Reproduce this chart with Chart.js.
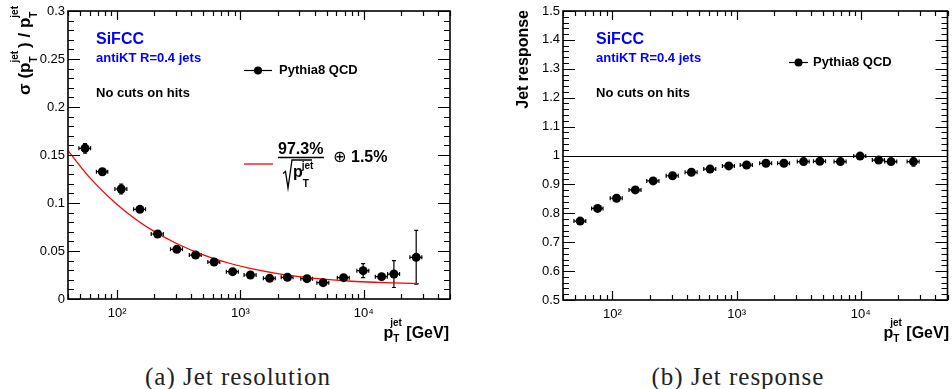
<!DOCTYPE html>
<html>
<head>
<meta charset="utf-8">
<script src="https://cdn.jsdelivr.net/npm/chart.js@4.4.0/dist/chart.umd.min.js"></script>
<style>
  body { margin: 0; background: #fff; }
  #wrap { position: relative; width: 952px; height: 389px; overflow: hidden; }
  .panel { position: absolute; top: 0; width: 476px; height: 350px; }
  .caption { position: absolute; top: 364px; font-family: "Liberation Serif", serif; font-size: 25px; letter-spacing: 1px; line-height: 25px; white-space: nowrap; transform: translateX(-50%); color: #222; }
</style>
</head>
<body>
<div id="wrap">
  <div class="panel" style="left:0"><canvas id="chartRes" width="476" height="350"></canvas></div>
  <div class="panel" style="left:476px"><canvas id="chartResp" width="476" height="350"></canvas></div>
  <div class="caption" style="left:238px">(a) Jet resolution</div>
  <div class="caption" style="left:738px">(b) Jet response</div>
</div>
<script>
// jet pT bins (GeV) and their half widths
const ptBins = [55, 76, 108, 153, 213, 305, 433, 612, 865, 1205, 1725, 2405, 3465, 4685, 6860, 9885, 13950, 17550, 26600];
const ptHalfWidth = [6, 8, 12, 17, 24, 34, 48, 68, 96, 135, 190, 265, 380, 520, 760, 1100, 1550, 1950, 2950];

// (a) resolution sigma(pT)/pT
const resolution = [0.157, 0.1326, 0.1146, 0.0934, 0.0677, 0.0517, 0.0458, 0.0385, 0.0285, 0.025, 0.0215, 0.0226, 0.0212, 0.017, 0.0222, 0.0295, 0.0233, 0.026, 0.0434];
const resolutionErr = [0.005, 0.003, 0.005, 0.003, 0.002, 0.002, 0.002, 0.002, 0.002, 0.002, 0.002, 0.002, 0.002, 0.002, 0.002, 0.0073, 0.002, 0.014, 0.028];

// fitted curve
const fitPt = [40, 60, 100, 150, 200, 300, 500, 800, 1200, 2000, 3000, 5000, 8000, 13000, 20000, 28000];
const fitSigma = [0.1546, 0.1265, 0.0985, 0.0808, 0.0704, 0.0581, 0.046, 0.0375, 0.0318, 0.0264, 0.0233, 0.0204, 0.0185, 0.0173, 0.0165, 0.0161];

// (b) response
const response = [0.773, 0.817, 0.852, 0.881, 0.912, 0.930, 0.942, 0.953, 0.964, 0.967, 0.973, 0.973, 0.979, 0.980, 0.979, 0.998, 0.984, 0.979, 0.979];
const responseErr = [0.004, 0.003, 0.003, 0.003, 0.003, 0.003, 0.003, 0.003, 0.003, 0.003, 0.003, 0.003, 0.003, 0.003, 0.003, 0.003, 0.003, 0.003, 0.016];

const xTickValues = [100, 1000, 10000];
const xTickLabels = ['10\u00B2', '10\u00B3', '10\u2074'];

const SANS = '"Liberation Sans", Arial, Helvetica, sans-serif';
const MAIN = 'bold 16px ' + SANS;
const SMALL = 'bold 10px ' + SANS;

function toPoints(ys, errs) {
    return ptBins.map((x, i) => ({ x: x, y: ys[i], xe: ptHalfWidth[i], ye: errs[i] }));
}

// text with stacked sub/superscripts
function stackWidth(ctx, p) {
    ctx.font = SMALL;
    return Math.max(ctx.measureText(p.sup).width + (p.supKern || 0), ctx.measureText(p.sub).width + (p.subKern || 0)) + (p.gap || 0);
}

function drawRich(ctx, parts, x, y, alignRight) {
    let total = 0;
    parts.forEach(p => {
        if (p.sup !== undefined) {
            total += stackWidth(ctx, p);
        } else {
            ctx.font = p.font || MAIN;
            total += ctx.measureText(p.t).width;
        }
    });
    let cx = alignRight ? x - total : x;
    ctx.textAlign = 'left';
    ctx.textBaseline = 'alphabetic';
    parts.forEach(p => {
        if (p.sup !== undefined) {
            ctx.font = SMALL;
            ctx.fillText(p.sup, cx + (p.supKern || 0), y + p.supDy);
            ctx.fillText(p.sub, cx + (p.subKern || 0), y + p.subDy);
            cx += stackWidth(ctx, p);
        } else {
            ctx.font = p.font || MAIN;
            ctx.fillText(p.t, cx, y);
            cx += ctx.measureText(p.t).width;
        }
    });
}

// ROOT like frame: error bars, box and inward ticks
const rootFrame = {
    id: 'rootFrame',
    beforeDatasetsDraw(chart) {
        const ctx = chart.ctx, xs = chart.scales.x, ys = chart.scales.y;
        const ds = chart.data.datasets[0];
        ctx.save();
        ctx.strokeStyle = '#000';
        ctx.lineWidth = 1.2;
        ds.data.forEach(p => {
            const px = xs.getPixelForValue(p.x), py = ys.getPixelForValue(p.y);
            const x0 = xs.getPixelForValue(p.x - p.xe), x1 = xs.getPixelForValue(p.x + p.xe);
            const y0 = ys.getPixelForValue(p.y - p.ye), y1 = ys.getPixelForValue(p.y + p.ye);
            ctx.beginPath();
            ctx.moveTo(x0, py); ctx.lineTo(x1, py);
            ctx.moveTo(x0, py - 2); ctx.lineTo(x0, py + 2);
            ctx.moveTo(x1, py - 2); ctx.lineTo(x1, py + 2);
            ctx.moveTo(px, y0); ctx.lineTo(px, y1);
            ctx.moveTo(px - 2, y0); ctx.lineTo(px + 2, y0);
            ctx.moveTo(px - 2, y1); ctx.lineTo(px + 2, y1);
            ctx.stroke();
        });
        ctx.restore();
    },
    afterDraw(chart, args, opts) {
        const ctx = chart.ctx, xs = chart.scales.x, ys = chart.scales.y;
        const a = chart.chartArea;
        ctx.save();
        ctx.strokeStyle = '#000';
        ctx.lineWidth = 1.2;
        ctx.beginPath();
        // log x ticks, top and bottom
        for (let d = 1; d <= 5; d++) {
            for (let m = 1; m <= 9; m++) {
                const v = m * Math.pow(10, d);
                if (v < xs.min || v > xs.max) continue;
                const px = Math.round(xs.getPixelForValue(v)) + 0.5;
                const len = m === 1 ? 9 : 5;
                ctx.moveTo(px, a.bottom); ctx.lineTo(px, a.bottom - len);
                ctx.moveTo(px, a.top); ctx.lineTo(px, a.top + len);
            }
        }
        // linear y ticks, left and right
        const n = Math.round((ys.max - ys.min) / opts.minor);
        const per = Math.round(opts.major / opts.minor);
        for (let i = 0; i <= n; i++) {
            const py = Math.round(ys.getPixelForValue(ys.min + i * opts.minor)) + 0.5;
            const len = i % per === 0 ? 12 : 6;
            ctx.moveTo(a.left, py); ctx.lineTo(a.left + len, py);
            ctx.moveTo(a.right, py); ctx.lineTo(a.right - len, py);
        }
        ctx.stroke();
        ctx.lineWidth = 1.6;
        ctx.strokeRect(a.left, a.top, a.right - a.left, a.bottom - a.top);
        ctx.restore();
    }
};

// common annotation: SiFCC labels, legend, x title
function drawHeader(ctx, x, legendX, legendY, markLen, textGap) {
    ctx.save();
    ctx.textAlign = 'left';
    ctx.textBaseline = 'middle';
    ctx.fillStyle = '#0000ff';
    ctx.font = 'bold 16px ' + SANS;
    ctx.fillText('SiFCC', x, 40);
    ctx.font = 'bold 13px ' + SANS;
    ctx.fillText('antiKT R=0.4 jets', x, 58.5);
    ctx.fillStyle = '#000';
    ctx.fillText('No cuts on hits', x, 93.5);
    // legend marker
    ctx.strokeStyle = '#000';
    ctx.lineWidth = 1.2;
    ctx.beginPath();
    ctx.moveTo(legendX, legendY); ctx.lineTo(legendX + markLen, legendY);
    ctx.stroke();
    ctx.beginPath();
    ctx.arc(legendX + markLen / 2, legendY, 4, 0, Math.PI * 2);
    ctx.fill();
    ctx.fillText('Pythia8 QCD', legendX + markLen + textGap, legendY);
    ctx.restore();
}

function drawXTitle(ctx, right) {
    ctx.save();
    ctx.fillStyle = '#000';
    drawRich(ctx, [{ t: 'p' }, { sup: 'jet', sub: 'T', supDy: -12, subDy: 4, supKern: -3, subKern: 0 }, { t: ' [GeV]' }], right, 338, true);
    ctx.restore();
}

function xScale(axisHeight) {
    return {
        type: 'logarithmic',
        min: 40,
        max: 50000,
        grid: { display: false, drawTicks: false },
        border: { display: false },
        afterBuildTicks: s => { s.ticks = xTickValues.map(v => ({ value: v })); },
        afterFit: s => { s.height = axisHeight; },
        ticks: {
            autoSkip: false,
            maxRotation: 0,
            padding: 7,
            color: '#000',
            font: { family: SANS, size: 13 },
            callback: v => xTickLabels[xTickValues.indexOf(v)]
        }
    };
}

// (a) resolution annotations
const resAnnot = {
    id: 'resAnnot',
    afterDraw(chart) {
        const ctx = chart.ctx;
        drawHeader(ctx, 96, 244, 70.5, 28, 7);
        ctx.save();
        ctx.fillStyle = '#000';
        ctx.strokeStyle = '#ff0000';
        ctx.lineWidth = 1.3;
        ctx.beginPath();
        ctx.moveTo(244, 164); ctx.lineTo(273, 164);
        ctx.stroke();
        ctx.font = MAIN;
        ctx.textBaseline = 'alphabetic';
        ctx.textAlign = 'left';
        ctx.fillText('97.3%', 278, 154);
        ctx.strokeStyle = '#000';
        ctx.lineWidth = 1.3;
        ctx.beginPath();
        ctx.moveTo(278, 157.5); ctx.lineTo(324, 157.5);
        // sqrt sign
        ctx.moveTo(283, 173.5); ctx.lineTo(285.5, 171.5); ctx.lineTo(288, 188);
        ctx.lineTo(292, 160); ctx.lineTo(312, 160);
        ctx.stroke();
        drawRich(ctx, [{ t: 'p' }, { sup: 'jet', sub: 'T', supDy: -8, subDy: 10, supKern: -1, subKern: 0 }], 293, 177, false);
        ctx.font = '16px "DejaVu Sans", sans-serif';
        ctx.fillText('\u2295', 333, 162);
        ctx.font = MAIN;
        ctx.fillText('1.5%', 351, 162);
        drawXTitle(ctx, 449);
        // y title
        const YT = 'bold 17px ' + SANS;
        ctx.translate(30, 4);
        ctx.rotate(-Math.PI / 2);
        drawRich(ctx, [
            { t: '\u03C3 (', font: YT }, { t: 'p', font: YT }, { sup: 'jet', sub: 'T', supDy: -12, subDy: 7, gap: 3 },
            { t: ') / p', font: YT }, { sup: 'jet', sub: 'T', supDy: -12, subDy: 7, gap: 2 }
        ], 0, 0, true);
        ctx.restore();
    }
};

// (b) response annotations
const respAnnot = {
    id: 'respAnnot',
    beforeDatasetsDraw(chart) {
        const ctx = chart.ctx, ys = chart.scales.y, a = chart.chartArea;
        const py = Math.round(ys.getPixelForValue(1)) + 0.5;
        ctx.save();
        ctx.strokeStyle = '#000';
        ctx.lineWidth = 1.2;
        ctx.beginPath();
        ctx.moveTo(a.left, py); ctx.lineTo(a.right, py);
        ctx.stroke();
        ctx.restore();
    },
    afterDraw(chart) {
        const ctx = chart.ctx;
        drawHeader(ctx, 120, 313, 62.5, 19, 5);
        ctx.save();
        ctx.fillStyle = '#000';
        drawXTitle(ctx, 473);
        ctx.translate(52, 10);
        ctx.rotate(-Math.PI / 2);
        ctx.font = MAIN;
        ctx.textAlign = 'right';
        ctx.textBaseline = 'alphabetic';
        ctx.fillText('Jet response', 0, 0);
        ctx.restore();
    }
};

new Chart(document.getElementById('chartRes'), {
    type: 'scatter',
    data: {
        datasets: [{
            label: 'Pythia8 QCD',
            data: toPoints(resolution, resolutionErr),
            backgroundColor: '#000',
            borderWidth: 0,
            pointRadius: 4.5
        }, {
            type: 'line',
            label: 'fit',
            data: fitPt.map((x, i) => ({ x: x, y: fitSigma[i] })),
            borderColor: '#ff0000',
            borderWidth: 1.3,
            pointRadius: 0,
            fill: false,
            cubicInterpolationMode: 'monotone'
        }]
    },
    options: {
        responsive: false,
        animation: false,
        events: [],
        layout: { padding: { top: 11, right: 26, left: 0, bottom: 0 } },
        plugins: { legend: { display: false }, tooltip: { enabled: false }, rootFrame: { major: 0.05, minor: 0.01 } },
        scales: {
            x: xScale(51),
            y: {
                min: 0,
                max: 0.3,
                grid: { display: false, drawTicks: false },
                border: { display: false },
                afterFit: s => { s.width = 68; },
                ticks: {
                    stepSize: 0.05,
                    padding: 3,
                    color: '#000',
                    font: { family: SANS, size: 13 },
                    callback: v => String(+v.toFixed(2))
                }
            }
        }
    },
    plugins: [rootFrame, resAnnot]
});

new Chart(document.getElementById('chartResp'), {
    type: 'scatter',
    data: {
        datasets: [{
            label: 'Pythia8 QCD',
            data: toPoints(response, responseErr),
            backgroundColor: '#000',
            borderWidth: 0,
            pointRadius: 4.5
        }]
    },
    options: {
        responsive: false,
        animation: false,
        events: [],
        layout: { padding: { top: 11, right: 3, left: 0, bottom: 0 } },
        plugins: { legend: { display: false }, tooltip: { enabled: false }, rootFrame: { major: 0.1, minor: 0.02 } },
        scales: {
            x: xScale(50),
            y: {
                min: 0.5,
                max: 1.5,
                grid: { display: false, drawTicks: false },
                border: { display: false },
                afterFit: s => { s.width = 87; },
                ticks: {
                    stepSize: 0.1,
                    padding: 3,
                    color: '#000',
                    font: { family: SANS, size: 13 },
                    callback: v => String(+v.toFixed(1))
                }
            }
        }
    },
    plugins: [rootFrame, respAnnot]
});
</script>
</body>
</html>
